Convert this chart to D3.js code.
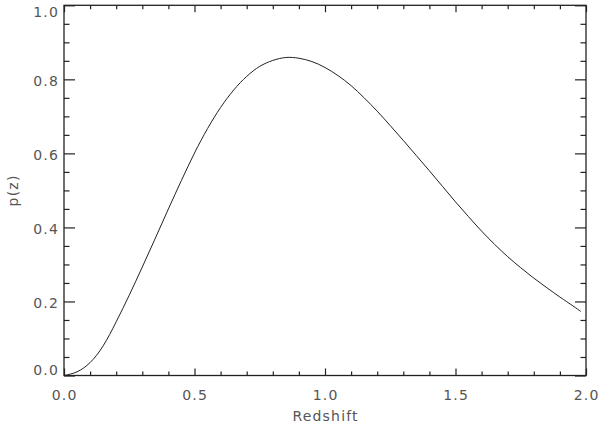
<!DOCTYPE html>
<html>
<head>
<meta charset="utf-8">
<script src="https://cdn.jsdelivr.net/npm/d3@7"></script>
<style>
  html, body { margin: 0; padding: 0; background: #fff; }
  svg { display: block; }
  .lbl { font-family: "DejaVu Sans", sans-serif; font-size: 14px; fill: #555; letter-spacing: 1.2px; }
</style>
</head>
<body>
<svg id="chart" width="600" height="423"></svg>
<script>
// Redshift probability curve
const redshift = [
  0.00, 0.05, 0.10, 0.15, 0.20, 0.25, 0.30, 0.35, 0.40, 0.45,
  0.50, 0.55, 0.60, 0.65, 0.70, 0.75, 0.80, 0.85, 0.90, 0.95,
  1.00, 1.05, 1.10, 1.15, 1.20, 1.25, 1.30, 1.35, 1.40, 1.45,
  1.50, 1.55, 1.60, 1.65, 1.70, 1.75, 1.80, 1.85, 1.90, 1.95, 1.98
];
const pz = [
  0.000, 0.010, 0.035, 0.080, 0.145, 0.217, 0.293, 0.371, 0.450, 0.527,
  0.601, 0.667, 0.724, 0.771, 0.808, 0.835, 0.851, 0.859, 0.857, 0.848,
  0.832, 0.810, 0.783, 0.750, 0.714, 0.675, 0.635, 0.594, 0.553, 0.511,
  0.469, 0.429, 0.390, 0.354, 0.321, 0.291, 0.263, 0.237, 0.212, 0.188, 0.173
];
const xTicks = [0.0, 0.5, 1.0, 1.5, 2.0];
const yTicks = [0.0, 0.2, 0.4, 0.6, 0.8, 1.0];
const xMinor = d3.range(0, 2.0001, 0.1);
const yMinor = d3.range(0, 1.0001, 0.05);

const L = 64, R = 586, T = 5.3, B = 375.5;
const svg = d3.select("#chart");

const x = d3.scaleLinear().domain([0, 2]).range([L, R]);
const y = d3.scaleLinear().domain([0, 1]).range([B, T]);

const fmt = d3.format(".1f");
const isMajor = (list, d) => list.some(t => Math.abs(t - d) < 1e-6);

// x axes: bottom and top (ticks point inward)
svg.append("g").attr("transform", `translate(0,${B})`)
  .call(d3.axisBottom(x).tickValues(xMinor).tickFormat(""))
  .call(g => g.selectAll(".tick line").attr("y2", d => isMajor(xTicks, d) ? -7 : -4));
svg.append("g").attr("transform", `translate(0,${T})`)
  .call(d3.axisTop(x).tickValues(xMinor).tickFormat(""))
  .call(g => g.selectAll(".tick line").attr("y2", d => isMajor(xTicks, d) ? 7 : 4));

// y axes: left and right
svg.append("g").attr("transform", `translate(${L},0)`)
  .call(d3.axisLeft(y).tickValues(yMinor).tickFormat(""))
  .call(g => g.selectAll(".tick line").attr("x2", d => isMajor(yTicks, d) ? 11 : 5.5));
svg.append("g").attr("transform", `translate(${R},0)`)
  .call(d3.axisRight(y).tickValues(yMinor).tickFormat(""))
  .call(g => g.selectAll(".tick line").attr("x2", d => isMajor(yTicks, d) ? -11 : -5.5));

svg.selectAll(".domain").remove();
svg.selectAll(".tick line").attr("stroke", "#222").attr("stroke-width", 1.2);

// frame
svg.append("rect")
  .attr("x", L).attr("y", T)
  .attr("width", R - L).attr("height", B - T)
  .attr("fill", "none").attr("stroke", "#222").attr("stroke-width", 1.3);

// tick labels (end labels kept inside the frame, IDL style)
svg.append("g").selectAll("text").data(xTicks).join("text")
  .attr("class", "lbl")
  .attr("x", d => x(d) + 0.6).attr("y", 400)
  .attr("text-anchor", "middle")
  .text(fmt);
svg.append("g").selectAll("text").data(yTicks).join("text")
  .attr("class", "lbl")
  .attr("x", 59).attr("y", d => Math.max(16.7, Math.min(375, y(d) + 6.5)))
  .attr("text-anchor", "end")
  .text(fmt);

// axis titles
svg.append("text").attr("class", "lbl")
  .attr("x", (L + R) / 2 + 0.6).attr("y", 421)
  .attr("text-anchor", "middle")
  .text("Redshift");
svg.append("text").attr("class", "lbl")
  .attr("transform", `translate(18,${(T + B) / 2}) rotate(-90)`)
  .attr("text-anchor", "middle")
  .text("p(z)");

// curve
const line = d3.line()
  .x((d, i) => x(redshift[i]))
  .y(d => y(d))
  .curve(d3.curveNatural);
svg.append("path")
  .datum(pz)
  .attr("d", line)
  .attr("fill", "none")
  .attr("stroke", "#222")
  .attr("stroke-width", 1);
</script>
</body>
</html>
